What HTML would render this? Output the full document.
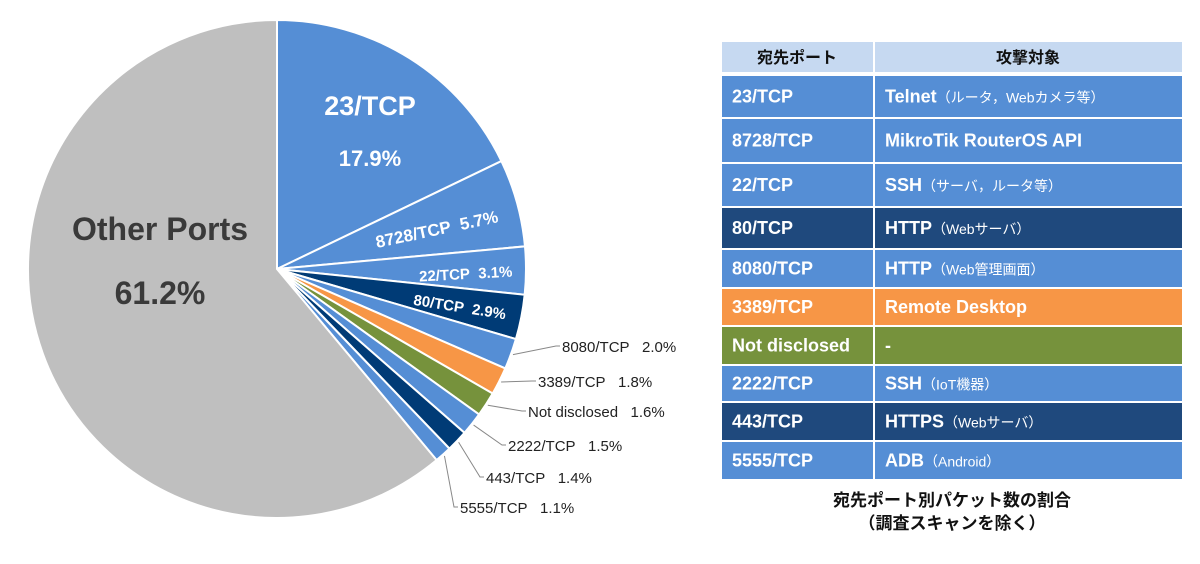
<!DOCTYPE html>
<html><head><meta charset="utf-8"><style>
body{margin:0;background:#fff;width:1200px;height:559px;overflow:hidden;font-family:"Liberation Sans","Noto Sans CJK JP",sans-serif}
svg text{font-family:"Liberation Sans","Noto Sans CJK JP",sans-serif}
</style></head><body>
<svg width="1200" height="559">
<g id="pie"></g>
<g id="labels"></g>
<g id="table"></g>
<text x="952" y="506" text-anchor="middle" font-size="17" font-weight="bold" fill="#111">宛先ポート別パケット数の割合</text>
<text x="952" y="529" text-anchor="middle" font-size="17" font-weight="bold" fill="#111">（調査スキャンを除く）</text>
</svg>
<script>
const categories=["23/TCP","8728/TCP","22/TCP","80/TCP","8080/TCP","3389/TCP","Not disclosed","2222/TCP","443/TCP","5555/TCP","Other Ports"];
const values=[17.9,5.7,3.1,2.9,2.0,1.8,1.6,1.5,1.4,1.1,61.2];
const pctLabels=["17.9%","5.7%","3.1%","2.9%","2.0%","1.8%","1.6%","1.5%","1.4%","1.1%","61.2%"];
const colors=["#558ed5","#558ed5","#558ed5","#003b76","#558ed5","#f79646","#76923c","#558ed5","#003b76","#558ed5","#bfbfbf"];
const targets=[["Telnet","（ルータ，Webカメラ等）"],["MikroTik RouterOS API",""],["SSH","（サーバ，ルータ等）"],["HTTP","（Webサーバ）"],["HTTP","（Web管理画面）"],["Remote Desktop",""],["-",""],["SSH","（IoT機器）"],["HTTPS","（Webサーバ）"],["ADB","（Android）"]];
const tableColors=["#558ed5","#558ed5","#558ed5","#1f497d","#558ed5","#f79646","#76923c","#558ed5","#1f497d","#558ed5"];
const NS="http://www.w3.org/2000/svg";
const cx=277,cy=269,R=249;
const total=values.reduce((a,b)=>a+b,0);
function pt(a,r){return [cx+r*Math.sin(a),cy-r*Math.cos(a)];}
const pie=document.getElementById('pie'),lab=document.getElementById('labels');
let acc=0;const mids=[];
values.forEach((v,i)=>{
 const a0=acc/total*2*Math.PI;acc+=v;const a1=acc/total*2*Math.PI;
 mids.push((a0+a1)/2);
 const p0=pt(a0,R),p1=pt(a1,R);
 const p=document.createElementNS(NS,'path');
 p.setAttribute('d',`M${cx},${cy}L${p0[0]},${p0[1]}A${R},${R} 0 ${a1-a0>Math.PI?1:0} 1 ${p1[0]},${p1[1]}Z`);
 p.setAttribute('fill',colors[i]);p.setAttribute('stroke','#fff');p.setAttribute('stroke-width','2');
 
 
 pie.appendChild(p);
});
const SP="\u00a0\u00a0";
function txt(parent,x,y,s,size,fill,anchor,rot,weight){
 const t=document.createElementNS(NS,'text');
 t.setAttribute('x',x);t.setAttribute('y',y);t.setAttribute('font-size',size);t.setAttribute('fill',fill);
 t.setAttribute('text-anchor',anchor||'middle');t.setAttribute('font-weight',weight||'bold');
 if(rot)t.setAttribute('transform',`rotate(${rot} ${x} ${y})`);
 t.textContent=s;parent.appendChild(t);return t;
}
let t;
t=txt(lab,370,115,categories[0],27,'#fff');
t=txt(lab,370,166,pctLabels[0],22,'#fff');
t=txt(lab,438,235,categories[1]+SP+pctLabels[1],17,'#fff','middle',-12);
t=txt(lab,466,279,categories[2]+SP+pctLabels[2],15,'#fff','middle',-3);
t=txt(lab,459,312,categories[3]+SP+pctLabels[3],15,'#fff','middle',9);
t=txt(lab,160,240,categories[10],32,'#3a3a3a');
t=txt(lab,160,304,pctLabels[10],32,'#3a3a3a');
const outPos=[[562,352],[538,387],[528,417],[508,451],[486,483],[460,513]];
for(let k=0;k<6;k++){
 const i=4+k,a=mids[i];const e=pt(a,R+2);
 const [tx,ty]=outPos[k];
 const l=document.createElementNS(NS,'polyline');
 l.setAttribute('points',`${e[0]},${e[1]} ${tx-6},${ty-6} ${tx-2},${ty-6}`);
 l.setAttribute('fill','none');l.setAttribute('stroke','#888');l.setAttribute('stroke-width','1');
 
 
 lab.appendChild(l);
 t=txt(lab,tx,ty,categories[i]+"\u00a0\u00a0\u00a0"+pctLabels[i],15,'#222','start',0,'normal');
 
 
}
const tb=document.getElementById('table');
function rect(x,y,w,h,f){const r=document.createElementNS(NS,'rect');r.setAttribute('x',x);r.setAttribute('y',y);r.setAttribute('width',w);r.setAttribute('height',h);r.setAttribute('fill',f);tb.appendChild(r);return r;}
let r=rect(722,42,151,30,'#c6d9f1');
r=rect(875,42,307,30,'#c6d9f1');
t=txt(tb,797,63,'宛先ポート',16,'#111');
t=txt(tb,1028,63,'攻撃対象',16,'#111');
const rowEdges=[75,118,163,207,249,288,326,365,402,441,480];
for(let i=0;i<10;i++){
 const y0=rowEdges[i]+1,h=rowEdges[i+1]-rowEdges[i]-2,ym=y0+h/2+6;
 r=rect(722,y0,151,h,tableColors[i]);
 r=rect(875,y0,307,h,tableColors[i]);
 t=txt(tb,732,ym,categories[i],18,'#fff','start',0,'bold');
 t=txt(tb,885,ym,'',18,'#fff','start',0,'bold');
 
 
 const s1=document.createElementNS(NS,'tspan');s1.textContent=targets[i][0];t.appendChild(s1);
 const s2=document.createElementNS(NS,'tspan');s2.setAttribute('font-size','14');s2.setAttribute('font-weight','normal');s2.textContent=targets[i][1];t.appendChild(s2);
}
</script>
</body></html>
